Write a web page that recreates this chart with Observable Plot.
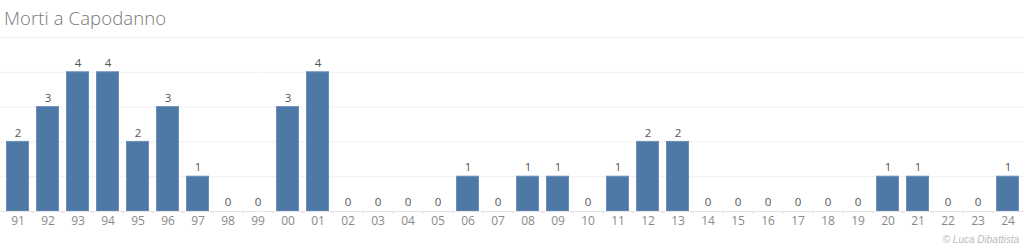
<!DOCTYPE html>
<html><head><meta charset="utf-8">
<script src="https://cdn.jsdelivr.net/npm/d3@7"></script>
<script src="https://cdn.jsdelivr.net/npm/@observablehq/plot@0.6"></script>
<style>
body{margin:0;background:#fff;width:1024px;height:247px;overflow:hidden;font-family:"Open Sans",Lato,sans-serif}
#title{height:36px;line-height:36px;padding-left:4px;font-size:18.5px;color:#777;font-weight:300;letter-spacing:0.1px}
#credit{height:15px;line-height:15px;text-align:right;padding-right:5px;font-size:10px;font-style:italic;color:#bbb;font-family:Arial,"Liberation Sans",sans-serif}
</style></head>
<body>
<div id="title">Morti a Capodanno</div>
<div id="chart"></div>
<div id="credit">© Luca Dibattista</div>
<script>
const years = ["91","92","93","94","95","96","97","98","99","00","01","02","03","04","05","06","07","08","09","10","11","12","13","14","15","16","17","18","19","20","21","22","23","24"];
const deaths = [2,3,4,4,2,3,1,0,0,3,4,0,0,0,0,1,0,1,1,0,1,2,2,0,0,0,0,0,0,1,1,0,0,1];
const gridValues = [1,2,3,4,5];

const data = years.map((y,i)=>({year:y, value:deaths[i]}));

const chart = Plot.plot({
  width:1024, height:196,
  marginLeft:0, marginRight:0, marginTop:1, marginBottom:21,
  style:{fontFamily:'"Open Sans",Lato,sans-serif', background:"#fff"},
  x:{domain:years, paddingInner:0.24, paddingOuter:0.12, label:null},
  y:{domain:[0,5], axis:null},
  marks:[
    Plot.ruleY(gridValues,{stroke:"#efefef", strokeWidth:1}),
    Plot.barY(data,{x:"year", y:"value", fill:"#4e79a7", stroke:"#6b8fb9", strokeWidth:1, insetLeft:0.5, insetRight:0.5}),
    Plot.ruleY([0],{stroke:"#e4e4e4"}),
    Plot.ruleX(years.slice(0,-1),{x:d=>d, dx:15, y1:0, y2:-0.08, stroke:"#e0e0e0"}),
    Plot.text(data,{x:"year", y:"value", text:d=>String(d.value), dy:-9, fill:"#555", fontSize:11.5}),
    Plot.axisX({tickSize:0, tickPadding:5, fontSize:12, color:"#8a8a8a", label:null})
  ]
});
document.getElementById("chart").append(chart);
</script>
</body></html>
